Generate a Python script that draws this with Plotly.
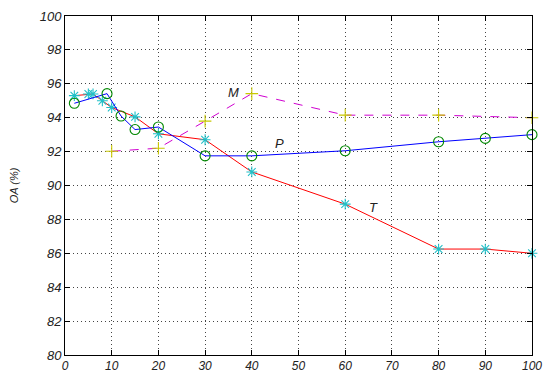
import plotly.graph_objects as go

# T series (red line, cyan asterisks)
t_x = [2, 5, 6, 8, 10, 15, 20, 30, 40, 60, 80, 90, 100]
t_y = [95.3, 95.4, 95.4, 95.0, 94.6, 94.05, 93.05, 92.7, 90.8, 88.9, 86.25, 86.25, 86.0]

# P series (blue line, green circles)
p_x = [2, 9, 12, 15, 20, 30, 40, 60, 80, 90, 100]
p_y = [94.85, 95.42, 94.1, 93.3, 93.45, 91.75, 91.75, 92.05, 92.58, 92.78, 93.0]

# M series (magenta dashed, yellow plus)
m_x = [10, 20, 30, 40, 60, 80, 100]
m_y = [92.02, 92.2, 93.8, 95.42, 94.15, 94.15, 94.0]

labels = ["M", "P", "T"]
label_x = [36, 46, 66]
label_y = [95.5, 92.5, 88.7]

x_ticks = [0, 10, 20, 30, 40, 50, 60, 70, 80, 90, 100]
y_ticks = [80, 82, 84, 86, 88, 90, 92, 94, 96, 98, 100]

fig = go.Figure()

series = [
    (m_x, m_y, "#d000d0", "dash", "cross-thin-open", 9, "#c8c800"),
    (t_x, t_y, "#ff0000", "solid", "asterisk-open", 9, "#20c0c8"),
    (p_x, p_y, "#0000ff", "solid", "circle-open", 10, "#008800"),
]
for xs, ys, lc, dash, sym, sz, mc in series:
    fig.add_trace(go.Scatter(
        x=xs, y=ys, mode="lines",
        line=dict(color=lc, width=1, dash=dash),
        showlegend=False, cliponaxis=False))
    fig.add_trace(go.Scatter(
        x=xs, y=ys, mode="markers",
        marker=dict(symbol=sym, size=sz, color=mc, line=dict(color=mc, width=1.1)),
        showlegend=False, cliponaxis=False))

for lab, lx, ly in zip(labels, label_x, label_y):
    fig.add_annotation(x=lx, y=ly, text=lab, showarrow=False,
                       font=dict(family="Liberation Sans", size=13, color="#222222", style="italic"))

axis_common = dict(
    showline=True, linecolor="black", linewidth=1, mirror="allticks",
    ticks="inside", ticklen=5, tickcolor="black", tickwidth=1,
    showgrid=True, gridcolor="#444444", griddash="1px,3px", gridwidth=1,
    zeroline=False, automargin=False,
)

fig.update_xaxes(range=[0, 100], tickvals=x_ticks, ticktext=[str(v) for v in x_ticks],
                 tickfont=dict(family="Liberation Sans", size=12, color="#222222", style="italic"),
                 **axis_common)
fig.update_yaxes(range=[80, 100], tickvals=y_ticks, ticktext=[str(v) for v in y_ticks],
                 tickfont=dict(family="Liberation Sans", size=13, color="#222222", style="italic"),
                 title=dict(text="OA (%)", standoff=22,
                            font=dict(family="Liberation Sans", size=11, color="#222222", style="italic")),
                 **axis_common)

fig.update_layout(
    width=545, height=364,
    margin=dict(l=57, r=21, t=8, b=17, pad=0),
    paper_bgcolor="white", plot_bgcolor="white",
)

fig.write_html("out.html")
